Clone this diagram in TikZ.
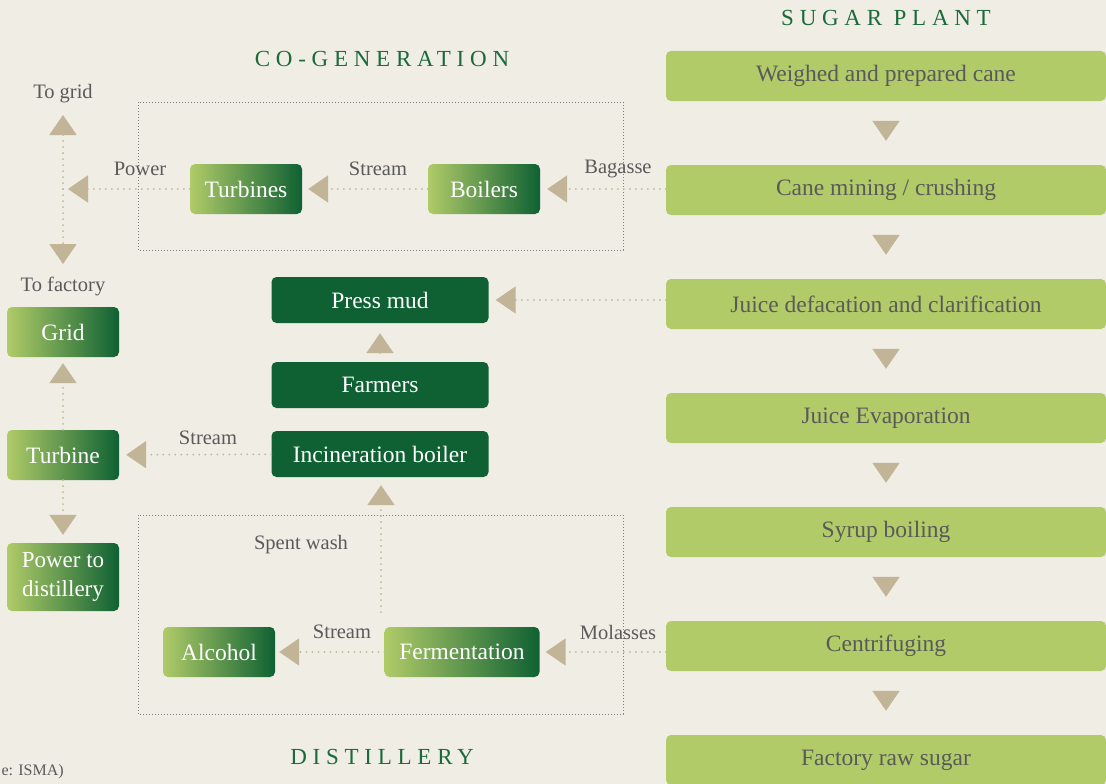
\documentclass[tikz,border=0pt]{standalone}
\usepackage{fontspec}
\setmainfont{Liberation Serif}
\newfontfamily\headfont[LetterSpace=25]{Liberation Serif}
\usetikzlibrary{arrows.meta}
\definecolor{bgcream}{HTML}{F0EDE5}
\definecolor{leafgreen}{HTML}{B0CB68}
\definecolor{forestgreen}{HTML}{0F6133}
\definecolor{sandtan}{HTML}{C2B597}
\definecolor{textgray}{HTML}{5A5A5A}
\definecolor{headgreen}{HTML}{1B6A3B}

\begin{document}
\begin{tikzpicture}[x=1pt,y=-1pt,
    every node/.style={font=\fontsize{23.5}{27}\selectfont},
    plantbox/.style={fill=leafgreen, text=textgray, rounded corners=5pt,
        minimum width=440pt, minimum height=50pt, inner sep=0pt},
    gradbox/.style={left color=leafgreen, right color=forestgreen, text=white,
        rounded corners=5pt, minimum width=112pt, minimum height=50pt, inner sep=0pt},
    darkbox/.style={fill=forestgreen, text=white, rounded corners=5pt,
        minimum width=217pt, minimum height=46pt, inner sep=0pt},
    flow/.style={draw=sandtan, line width=2pt, line cap=round, dash pattern=on 0pt off 6pt,
        -{Triangle[width=27pt,length=20pt,fill=sandtan]}},
    frame/.style={draw=gray, line width=0.9pt, dash pattern=on 0.9pt off 2.1pt},
    tag/.style={text=textgray, font=\fontsize{20.5}{24}\selectfont},
    heading/.style={text=headgreen, font=\headfont\fontsize{23}{27}\selectfont}]

    \fill[bgcream] (0,0) rectangle (1106,784);
    \useasboundingbox (0,0) rectangle (1106,784);

    % frames
    \draw[frame] (138,102) rectangle (623,250);
    \draw[frame] (138,515) rectangle (623,714);

    % sugar plant
    \node[heading] (sugarplant) at (886,18) {SUGAR PLANT};
    \node[plantbox] (weigh)    at (886,76)  {Weighed and prepared cane};
    \node[plantbox] (crush)    at (886,190) {Cane mining / crushing};
    \node[plantbox] (clarify)  at (886,304) {Juice defacation and clarification};
    \node[plantbox] (evap)     at (886,418) {Juice Evaporation};
    \node[plantbox] (syrup)    at (886,532) {Syrup boiling};
    \node[plantbox] (centri)   at (886,646) {Centrifuging};
    \node[plantbox] (rawsugar) at (886,760) {Factory raw sugar};
    \foreach \a/\b in {weigh/crush, crush/clarify, clarify/evap, evap/syrup,
        syrup/centri, centri/rawsugar}
        \draw[flow, shorten <=22pt, shorten >=24pt] (\a) -- (\b);

    % co-generation
    \node[heading] (cogen) at (382,59) {CO-GENERATION};
    \node[gradbox] (boilers)  at (484,189) {Boilers};
    \node[gradbox] (turbines) at (246,189) {Turbines};
    \coordinate (hub) at (63,189);
    \coordinate (togridpt) at (63,115);
    \coordinate (tofactorypt) at (63,264);
    \draw[flow, shorten >=7pt] (crush.west |- boilers) -- (boilers);
    \draw[flow, shorten >=6pt] (boilers) -- (turbines);
    \draw[flow, shorten >=5pt] (turbines) -- (hub);
    \draw[flow] (hub) -- (togridpt);
    \draw[flow] (hub) -- (tofactorypt);
    \node[tag] (bagasse) at (618,169) {Bagasse};
    \node[tag] (steam1)  at (378,169) {Stream};
    \node[tag] (power)   at (140,169) {Power};
    \node[tag] (togrid)  at (63,94)   {To grid};
    \node[tag] (tofactory) at (63,286) {To factory};

    % grid and turbine
    \node[gradbox] (grid)      at (63,332) {Grid};
    \node[gradbox] (turbine)   at (63,455) {Turbine};
    \node[gradbox, minimum height=68pt, align=center,
        font=\fontsize{23}{29}\selectfont] (powerdist) at (63,577) {Power to\\distillery};
    \draw[flow, shorten >=6pt] (turbine) -- (grid);
    \draw[flow, shorten >=8pt] (turbine) -- (powerdist);

    % press mud
    \node[darkbox] (pressmud) at (380,300) {Press mud};
    \node[darkbox] (farmers)  at (380,385) {Farmers};
    \node[darkbox] (incin)    at (380,454) {Incineration boiler};
    \draw[flow, shorten >=7pt] (clarify.west |- pressmud) -- (pressmud);
    \draw[flow, shorten <=9pt, shorten >=10pt] (farmers) -- (pressmud);
    \draw[flow, shorten >=7pt] (incin) -- (turbine);
    \node[tag] (steam2) at (208,438) {Stream};

    % distillery
    \node[heading] (distillery) at (382,757) {DISTILLERY};
    \node[gradbox, minimum width=155pt] (ferment) at (462,652) {Fermentation};
    \node[gradbox] (alcohol) at (219,652) {Alcohol};
    \coordinate (washfoot) at (381,612);
    \draw[flow, shorten >=6pt] (centri.west |- ferment) -- (ferment);
    \draw[flow, shorten >=4pt] (ferment) -- (alcohol);
    \draw[flow, shorten >=8pt] (washfoot) -- (incin.south -| washfoot);
    \node[tag] (molasses)  at (618,632) {Molasses};
    \node[tag] (steam3)    at (342,632) {Stream};
    \node[tag] (spentwash) at (301,545) {Spent wash};

    \node[tag, anchor=west, font=\fontsize{16}{19}\selectfont] (source) at (-2,772) {e: ISMA)};
\end{tikzpicture}
\end{document}
